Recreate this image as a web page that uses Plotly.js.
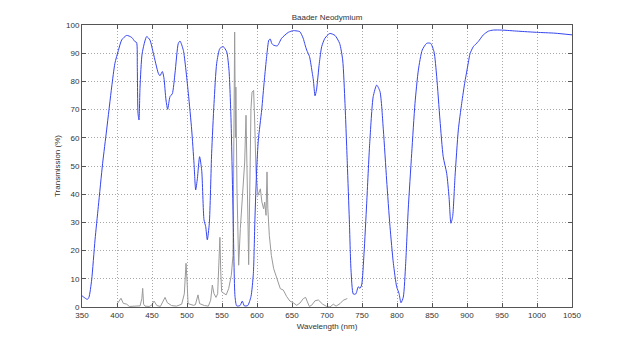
<!DOCTYPE html>
<html>
<head>
<meta charset="utf-8">
<script src="https://cdn.plot.ly/plotly-3.0.1.min.js"></script>
<style>html,body{margin:0;padding:0;background:#fff;}#chart{width:631px;height:346px;}</style>
</head>
<body>
<div id="chart"></div>
<script>
// Filter transmission curve (Baader Neodymium)
const filterWavelength = [350,352,357.6,360,363.8,368.6,373.3,379.5,385.2,392.4,397,402,406.7,413.8,421,425.7,428,429,430,431.4,432.9,436,442.4,447,451.9,459,461.4,464.8,467,470,472.4,475.7,479,482.9,487.6,490,494.8,501.9,506.7,510,512.4,514.8,518,521,524.3,526.7,529,531.9,535.2,538.6,542.4,547,551.9,556.7,560,562.9,566,568.6,571,575.7,579,581.9,586.7,591.4,594.8,597,599.5,601.9,606.7,610.5,613.8,617,619,621,623.3,629,635.2,644.8,651.9,659,661.4,666,668.6,671,675,679,680.5,682.9,685,689,692.4,697,704,711.4,718,722.4,725.7,729,731.9,734.3,737.6,741,744.8,747,749.5,752.9,756.7,761,766,771,775.7,780.5,785.2,790,794.8,799.5,802.9,805.7,809,812.4,816,821,825.7,830.5,836,842.4,848,852.9,856.7,861.4,866,871,874.3,877,879.5,882.9,887.6,892.4,897,899.5,902,904.3,909,916,923.3,930.4,937.6,949.5,973.3,999.5,1025.7,1050];
const filterTransmission = [4.0,3.6,2.7,3.5,9.6,23.8,35.6,51,62.8,78,86.4,91,94.7,96.3,95.6,94.1,93.8,85,68.7,66.3,78,90,95.9,94.7,90,82.9,82,83.5,81.3,73.4,70.1,74.6,75.6,83,93.5,94.3,91,75.8,62.8,51,41.5,45.5,53.3,48.5,30.9,28.5,23.8,29.7,54.5,72.2,86.4,91.7,92.3,90.5,84,66.3,30.9,3.7,0.4,0.5,2.1,0.4,0.5,3.7,11.9,30.9,48.6,59.2,69.9,80.5,88.8,94.7,95,93.5,92.9,92.6,95.3,97.4,98,97.8,97.6,95.3,93,91.1,88.8,82.9,80.5,74.9,77,86.4,92.3,95.3,97,96.3,93.5,87.6,72.2,51,30.9,13.1,4.6,4.6,7.2,6.6,7.8,19,36.8,58,74.6,78.7,76.4,62.8,45,28.5,15.5,7.2,4.8,1.5,3.5,15.5,34.4,54.5,72.2,84,91.1,93.5,93.5,90.5,81.7,66.3,53.3,47.4,39.1,29.7,32.1,46.3,62.8,72.2,79.9,83.3,86.8,89.8,92.3,94.1,96.5,97.8,98.2,98.2,97.8,97.4,97.1,96.5];

// Lamp emission spectrum (grey)
const lampWavelength = [400,403,405.7,409,413.8,417.6,425,433,435.5,436.7,438,440,446,449.5,452.9,457,462,465.2,468.6,472,478,485,492.4,496.2,498.6,500,501.5,509,512,515.7,518,525,530.5,533.8,536.2,538.5,541.4,543.8,545.7,547,548.2,549.5,552.9,556,559.5,563.3,565.7,567.1,568.1,569.2,569.8,571.4,572.9,573.8,576.2,579.5,582.4,584.3,585.7,587.1,588.1,589.5,591.4,592.9,595.2,596.7,598.6,601.4,604.8,607,609.5,611,612.9,614.3,615.5,617.6,620.5,623.8,628.6,633.3,637.6,642.4,647,651.9,656.7,661.4,666.2,669.5,672,674.8,678,682.9,687.6,693.8,699.5,704.3,709,713,718.6,723.3,729];
const lampIntensity = [1.0,2.0,3.1,1.3,1.0,0.2,0.3,0.4,3,6.6,1,0.3,0.2,0.6,2.1,0.5,0.2,1.8,3.4,1.5,0.5,0.3,1,4.7,15.5,9.6,1.2,0.6,0.8,4.3,1.2,0.5,0.3,2.4,7.8,4.8,3.4,4.7,20.2,24.7,12.5,5.4,4.8,4.3,6.5,11.2,18.3,53.8,97.5,60,78,41.9,18.3,14.8,27.8,41.9,51.4,68,53.8,30.1,15,41.9,70.3,76.2,76.8,65.6,47.9,39.6,41.9,37.2,34.8,37.2,32.5,47.9,34.8,25.4,18.3,13.6,10,6.5,6,3.7,2.1,1.5,0.6,1.4,3,3.4,1.8,0.2,0.6,2.2,2.5,1,0.2,0,1,0.3,1.2,2.4,3];

const xTicks = [350,400,450,500,550,600,650,700,750,800,850,900,950,1000,1050];
const yTicks = [0,10,20,30,40,50,60,70,80,90,100];

const font = {family: 'Liberation Sans, Arial, sans-serif', size: 8, color: '#333'};

const traces = [
  {x: lampWavelength, y: lampIntensity, type: 'scatter', mode: 'lines',
   line: {color: '#9a9a9a', width: 1}, hoverinfo: 'skip'},
  {x: filterWavelength, y: filterTransmission, type: 'scatter', mode: 'lines',
   line: {color: '#3545f0', width: 1, shape: 'spline', smoothing: 0.6}, hoverinfo: 'skip'}
];

const axisCommon = {
  showline: true, linecolor: '#555', linewidth: 1, mirror: 'ticks',
  ticks: 'inside', ticklen: 4, tickcolor: '#555', tickwidth: 1,
  showgrid: true, gridcolor: '#a8a8a8', griddash: '1px,2px', gridwidth: 1,
  zeroline: false, tickfont: font
};

const layout = {
  width: 631, height: 346,
  margin: {l: 82, r: 59, t: 25, b: 39, pad: 0},
  paper_bgcolor: '#fff', plot_bgcolor: '#fff',
  showlegend: false,
  title: {text: 'Baader Neodymium', font: font, x: 0.5, xref: 'paper', xanchor: 'center',
          y: 1 - 17/346, yref: 'container', yanchor: 'middle'},
  xaxis: Object.assign({}, axisCommon, {range: [350, 1050], tickvals: xTicks,
          ticktext: xTicks.map(String),
          title: {text: 'Wavelength (nm)', font: font, standoff: 4}}),
  yaxis: Object.assign({}, axisCommon, {range: [0, 100], tickvals: yTicks,
          ticktext: yTicks.map(String),
          title: {text: 'Transmission (%)', font: font, standoff: 4}})
};

Plotly.newPlot('chart', traces, layout, {staticPlot: true, displayModeBar: false});
</script>
</body>
</html>
